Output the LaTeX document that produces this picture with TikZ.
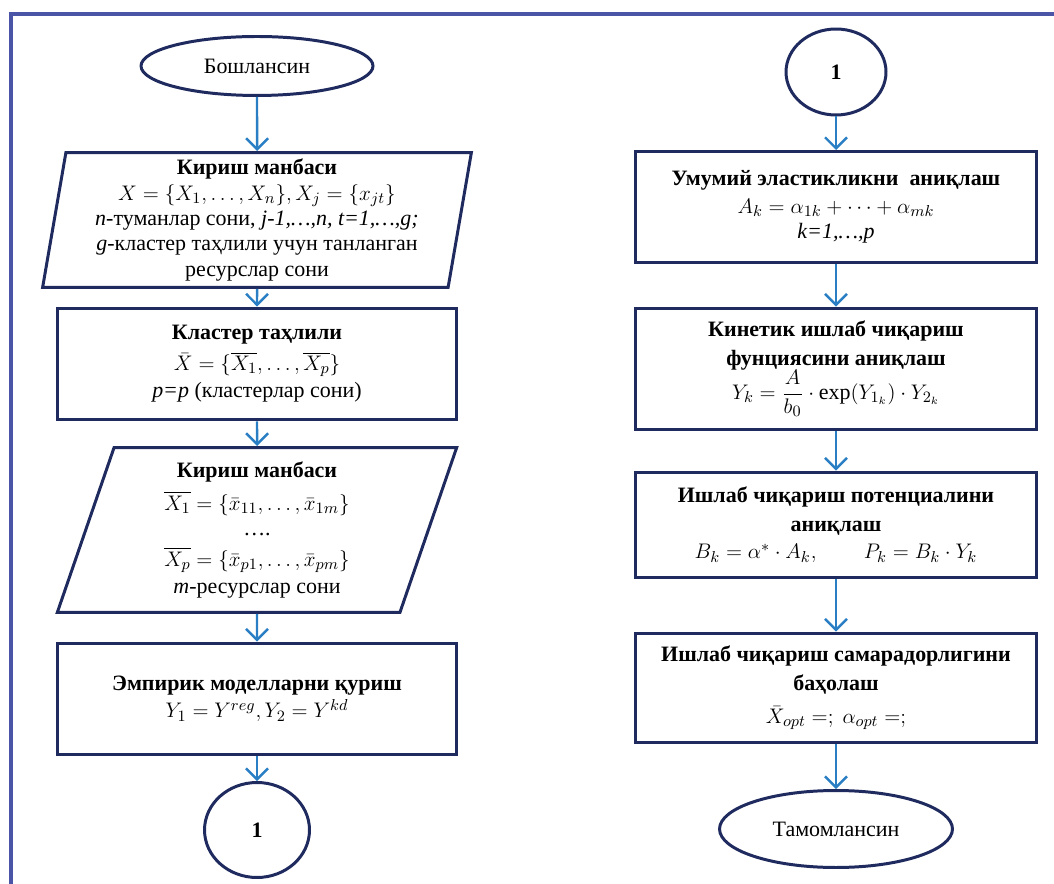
\documentclass[tikz,border=0pt]{standalone}
\usepackage{fontspec}
\usepackage{amsmath}
\setmainfont{Liberation Serif}
\usetikzlibrary{shapes.geometric,arrows.meta}
\definecolor{framecol}{HTML}{4A55A8}
\definecolor{boxcol}{HTML}{1F2A5E}
\definecolor{arrcol}{HTML}{2A7FC4}
\begin{document}
\begin{tikzpicture}[x=0.02cm,y=-0.02cm,
    every node/.style={font=\fontsize{12.5}{14.5}\selectfont,align=center},
    block/.style={draw=boxcol,line width=1.7pt,rectangle,minimum width=8.04cm,inner sep=2pt},
    iobox/.style={draw=boxcol,line width=1.7pt,trapezium,trapezium stretches=true,inner sep=1pt},
    term/.style={draw=boxcol,line width=1.7pt,ellipse,inner sep=1pt},
    flow/.style={draw=arrcol,line width=1.4pt,-{Straight Barb[length=2.2mm,width=4.4mm]}}]
\useasboundingbox (0,0) rectangle (1054,884);
\draw[framecol,line width=2.2pt] (1054,14) -- (11,14) -- (11,884);
% left column
\node[term,minimum width=4.64cm,minimum height=1.18cm] (start) at (257,66) {Бошлансин};
\node[iobox,trapezium left angle=81,trapezium right angle=99,minimum width=8.6cm,minimum height=2.7cm] (in1) at (257,220)
  {\textbf{Кириш манбаси}\\ $X=\{X_1,\dots,X_n\},X_j=\{x_{jt}\}$\\
   \textit{n}-туманлар сони, \textit{j-1,…,n, t=1,…,g;}\\
   \textit{g}-кластер таҳлили учун танланган\\ ресурслар сони};
\node[block,minimum width=7.98cm,minimum height=2.24cm] (clust) at (257,364)
  {\textbf{Кластер таҳлили}\\[3pt] $\bar X=\{\overline{X_1},\dots,\overline{X_p}\}$\\[1pt] \textit{p=p} (кластерлар сони)};
\node[iobox,trapezium left angle=75,trapezium right angle=105,minimum width=8.0cm,minimum height=3.3cm] (in2) at (257,530)
  {\textbf{Кириш манбаси}\\[4pt] $\overline{X_1}=\{\bar x_{11},\dots,\bar x_{1m}\}$\\ ….\\[3pt]
   $\overline{X_p}=\{\bar x_{p1},\dots,\bar x_{pm}\}$\\[1pt] \textit{m}-ресурслар сони};
\node[block,minimum width=8.0cm,minimum height=2.24cm] (model) at (257,699)
  {\textbf{Эмпирик моделларни қуриш}\\[1pt] $Y_1=Y^{reg},Y_2=Y^{kd}$};
\node[term,minimum width=2.1cm,minimum height=1.9cm] (conA) at (257,830) {\textbf{1}};
% right column
\node[term,minimum width=2.0cm,minimum height=1.72cm] (conB) at (836,72) {\textbf{1}};
\node[block,minimum height=2.22cm] (elast) at (836,207)
  {\textbf{Умумий эластикликни\ \ аниқлаш}\\[1pt] $A_k=\alpha_{1k}+\dots+\alpha_{mk}$\\ \textit{k=1,…,p}};
\node[block,minimum height=2.44cm] (kinet) at (836,369)
  {\textbf{Кинетик ишлаб чиқариш}\\[2pt] \textbf{фунциясини аниқлаш}\\[-1pt]
   $Y_k=\dfrac{A}{b_0}\cdot\exp(Y_{1_k})\cdot Y_{2_k}$};
\node[block,minimum height=2.12cm] (poten) at (836,525)
  {\textbf{Ишлаб чиқариш потенциалини}\\[2pt] \textbf{аниқлаш}\\[1pt] $B_k=\alpha^*\cdot A_k,\qquad P_k=B_k\cdot Y_k$};
\node[block,minimum height=2.2cm] (effic) at (836,688)
  {\textbf{Ишлаб чиқариш самарадорлигини}\\[2pt] \textbf{баҳолаш}\\[4pt] $\bar X_{opt}=;\ \alpha_{opt}=;$};
\node[term,minimum width=4.66cm,minimum height=1.54cm] (stop) at (836,829) {Тамомлансин};
% connectors
\draw[flow] (start) -- (in1);
\draw[flow] (in1) -- (clust);
\draw[flow] (clust) -- (in2);
\draw[flow] (in2) -- (model);
\draw[flow] (model) -- (conA);
\draw[flow] (conB) -- (elast);
\draw[flow] (elast) -- (kinet);
\draw[flow] (kinet) -- (poten);
\draw[flow] (poten) -- (effic);
\draw[flow] (effic) -- (stop);
\end{tikzpicture}
\end{document}
